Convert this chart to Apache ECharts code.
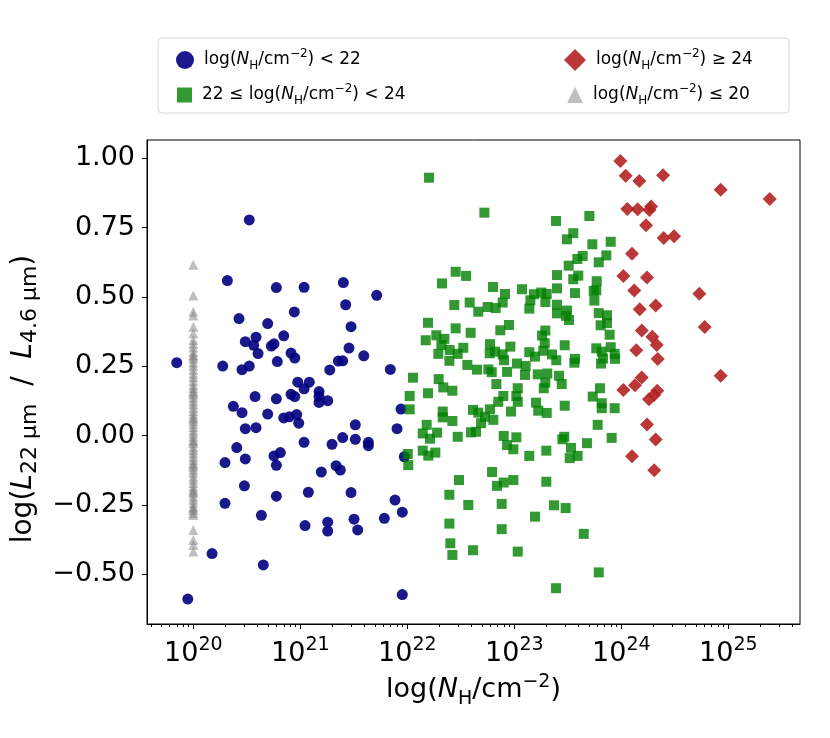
<!DOCTYPE html>
<html>
<head>
<meta charset="utf-8">
<script src="https://cdn.jsdelivr.net/npm/echarts@6/dist/echarts.min.js"></script>
<style>
  html, body { margin: 0; padding: 0; background: #fff; }
  #main { width: 830px; height: 738px; }
</style>
</head>
<body>
<div id="main"></div>
<script>
// log(NH) < 22
var lowX = [20.523, 20.318, 20.776, 21.035, 21.402, 21.714, 21.424, 20.944, 20.427, 20.695,
  21.474, 20.845, 20.586, 20.486, 20.564, 20.754, 20.729, 21.455, 20.605, 20.913,
  20.948, 21.593, 20.785, 21.355, 21.396, 20.275, 20.523, 20.455, 21.275, 21.841,
  20.976, 21.084, 21.035, 21.175, 21.175, 21.175, 21.256, 20.577, 20.776, 20.913,
  20.948, 20.374, 21.941, 20.455, 20.695, 20.845, 20.897, 20.966, 20.985, 20.486,
  20.586, 21.514, 21.904, 20.406, 20.486, 20.296, 20.754, 20.813, 20.776, 21.035,
  21.296, 21.396, 21.514, 21.636, 21.636, 21.196, 21.334, 21.374, 21.972, 20.477,
  20.296, 20.776, 21.075, 21.474, 21.885, 21.953, 21.785, 20.636, 21.044, 21.256,
  21.256, 21.502, 21.536, 20.175, 20.654, 21.953, 19.845, 19.948];
var lowY = [0.778, 0.559, 0.534, 0.535, 0.552, 0.506, 0.472, 0.446, 0.422, 0.404,
  0.393, 0.360, 0.355, 0.339, 0.326, 0.331, 0.323, 0.316, 0.296, 0.298,
  0.280, 0.288, 0.267, 0.269, 0.270, 0.251, 0.251, 0.238, 0.237, 0.239,
  0.193, 0.193, 0.169, 0.159, 0.141, 0.120, 0.126, 0.141, 0.133, 0.149,
  0.141, 0.106, 0.096, 0.083, 0.078, 0.064, 0.068, 0.076, 0.045, 0.025,
  0.029, 0.039, 0.025, -0.043, -0.084, -0.097, -0.073, -0.061, -0.107, -0.024,
  -0.031, -0.007, -0.013, -0.024, -0.036, -0.131, -0.108, -0.124, -0.076, -0.181,
  -0.244, -0.218, -0.204, -0.205, -0.232, -0.276, -0.298, -0.287, -0.324, -0.312,
  -0.344, -0.301, -0.340, -0.425, -0.466, -0.573, 0.263, -0.589];

// 22 <= log(NH) < 24
var midX = [22.203, 22.720, 23.390, 23.701, 23.551, 23.492, 23.729, 23.901, 23.639, 23.589,
  23.860, 23.508, 23.789, 22.452, 22.549, 22.324, 23.399, 23.551, 23.598, 23.770,
  22.801, 23.072, 23.399, 22.913, 23.184, 23.252, 23.303, 23.766, 23.742, 23.567,
  22.439, 22.583, 22.663, 22.751, 22.826, 22.891, 23.150, 23.140, 23.290, 23.399,
  23.399, 23.492, 23.483, 23.511, 23.748, 23.789, 23.866, 23.807, 23.866, 23.891,
  22.193, 22.452, 22.592, 22.869, 22.950, 22.271, 22.172, 22.346, 22.318, 23.290,
  23.259, 23.284, 23.471, 22.773, 22.963, 22.290, 22.396, 22.471, 22.523, 22.770,
  22.820, 22.891, 22.904, 22.393, 22.561, 22.651, 22.757, 22.789, 22.932, 23.025,
  23.106, 23.140, 23.193, 23.271, 23.352, 23.392, 23.567, 23.561, 23.766, 23.817,
  23.901, 23.938, 23.829, 23.810, 23.941, 22.053, 22.293, 23.100, 23.219, 23.308,
  23.418,
  22.336, 22.421, 22.193, 22.022, 22.832, 23.032, 23.290, 23.443, 23.275, 23.801,
  23.733, 22.897, 23.019, 23.032, 22.850, 23.203, 23.471, 23.817, 23.817, 23.938,
  22.022, 22.331, 22.331, 22.421, 22.614, 22.663, 22.773, 22.726, 22.804, 22.689,
  22.969, 23.224, 23.303, 22.181, 22.144, 22.278, 22.212, 22.471, 22.595, 22.642,
  22.901, 23.019, 22.932, 22.991, 23.140, 23.299, 23.467, 23.449, 23.530, 23.592,
  23.518, 23.679, 23.779, 23.910, 22.144, 22.196, 22.262, 22.004, 22.009, 22.792,
  22.483, 22.838, 22.901, 22.991, 23.299, 22.393, 22.570, 22.882, 23.371, 23.480,
  23.193, 22.393, 22.882, 23.649, 22.402, 22.421, 22.614, 23.032, 23.789, 23.390];
var midY = [0.930, 0.804, 0.774, 0.792, 0.730, 0.708, 0.690, 0.699, 0.648, 0.637,
  0.650, 0.613, 0.625, 0.591, 0.576, 0.549, 0.579, 0.564, 0.577, 0.557,
  0.536, 0.528, 0.531, 0.511, 0.510, 0.516, 0.511, 0.524, 0.522, 0.514,
  0.471, 0.480, 0.447, 0.464, 0.460, 0.480, 0.488, 0.458, 0.482, 0.472,
  0.441, 0.451, 0.432, 0.417, 0.487, 0.442, 0.434, 0.398, 0.406, 0.364,
  0.407, 0.387, 0.371, 0.380, 0.399, 0.362, 0.344, 0.349, 0.327, 0.379,
  0.361, 0.333, 0.326, 0.330, 0.321, 0.295, 0.309, 0.295, 0.317, 0.297,
  0.303, 0.293, 0.272, 0.270, 0.255, 0.238, 0.239, 0.229, 0.230, 0.260,
  0.251, 0.301, 0.285, 0.306, 0.293, 0.272, 0.277, 0.263, 0.315, 0.303,
  0.319, 0.295, 0.278, 0.260, 0.277, 0.209, 0.204, 0.219, 0.221, 0.224,
  0.216,
  0.174, 0.162, 0.153, 0.143, 0.186, 0.171, 0.191, 0.186, 0.171, 0.171,
  0.141, 0.143, 0.143, 0.122, 0.122, 0.119, 0.108, 0.117, 0.099, 0.099,
  0.095, 0.087, 0.066, 0.053, 0.093, 0.083, 0.095, 0.068, 0.057, 0.045,
  0.087, 0.090, 0.082, 0.039, 0.008, 0.011, -0.011, -0.004, 0.012, 0.014,
  -0.001, -0.006, -0.034, -0.049, -0.073, -0.054, -0.004, -0.013, -0.044, -0.073,
  -0.081, -0.027, 0.039, -0.008, -0.054, -0.072, -0.061, -0.066, -0.106, -0.131,
  -0.160, -0.181, -0.169, -0.160, -0.166, -0.213, -0.250, -0.246, -0.251, -0.261,
  -0.292, -0.317, -0.337, -0.354, -0.388, -0.430, -0.413, -0.418, -0.493, -0.550];

// log(NH) >= 24
var highX = [23.991, 24.041, 24.168, 24.390, 24.929, 25.387, 24.056, 24.153, 24.278, 24.262,
  24.231, 24.396, 24.493, 24.100, 24.019, 24.240, 24.729, 24.121, 24.321, 24.172,
  24.779, 24.191, 24.290, 24.331, 24.140, 24.340, 24.929, 24.191, 24.128, 24.019,
  24.336, 24.306, 24.259, 24.240, 24.321, 24.100, 24.308];
var highY = [0.990, 0.937, 0.918, 0.939, 0.887, 0.853, 0.817, 0.816, 0.826, 0.814,
  0.759, 0.713, 0.719, 0.656, 0.576, 0.570, 0.512, 0.523, 0.469, 0.456,
  0.392, 0.379, 0.357, 0.327, 0.308, 0.276, 0.216, 0.210, 0.182, 0.165,
  0.162, 0.147, 0.131, 0.040, -0.014, -0.074, -0.125];

// log(NH) <= 20, all drawn at 20
var limX = 20;
var limY = [0.616, 0.505, 0.447, 0.433, 0.393, 0.369, 0.345, 0.331, 0.318, 0.302,
  0.291, 0.277, 0.264, 0.252, 0.238, 0.223, 0.211, 0.197, 0.183, 0.172,
  0.161, 0.148, 0.137, 0.124, 0.113, 0.101, 0.089, 0.077, 0.066, 0.054,
  0.043, 0.031, 0.019, 0.008, -0.004, -0.016, -0.027, -0.041, -0.052, -0.063,
  -0.076, -0.088, -0.099, -0.112, -0.123, -0.134, -0.147, -0.158, -0.171, -0.183,
  -0.194, -0.206, -0.219, -0.231, -0.244, -0.256, -0.268, -0.279, -0.286, -0.340,
  -0.376, -0.394, -0.418, 0.285, 0.155, 0.062, -0.021, -0.105, -0.201, -0.262];

var xMajor = [20, 21, 22, 23, 24, 25];
var yMajor = [-0.5, -0.25, 0, 0.25, 0.5, 0.75, 1.0];

var FONT = 'DejaVu Sans';

// minor ticks of the log axis, 2..9 x 10^n
var xMinor = [];
for (var n = 19; n <= 25; n++) {
    for (var k = 2; k <= 9; k++) {
        var v = n + Math.log10(k);
        if (v > 19.567 && v < 25.67) xMinor.push(v);
    }
}

function pairs(xs, ys) {
    return ys.map(function (y, i) { return [Array.isArray(xs) ? xs[i] : xs, y]; });
}

var legendText = {
    low: 'log({i|N}{s|H}/cm{p|−2}) < 22',
    mid: '22 ≤ log({i|N}{s|H}/cm{p|−2}) < 24',
    high: 'log({i|N}{s|H}/cm{p|−2}) ≥ 24',
    lim: 'log({i|N}{s|H}/cm{p|−2}) ≤ 20'
};
var legendRich = {
    i: { fontFamily: FONT, fontSize: 17, fontStyle: 'italic', lineHeight: 24, color: '#000' },
    s: { fontFamily: FONT, fontSize: 12, lineHeight: 10, verticalAlign: 'bottom', color: '#000' },
    p: { fontFamily: FONT, fontSize: 12, lineHeight: 10, verticalAlign: 'top', color: '#000' }
};
function legend(name, icon, size, left, top) {
    return {
        data: [{ name: name, icon: icon }],
        left: left,
        top: top,
        padding: 0,
        itemWidth: size,
        itemHeight: size,
        selectedMode: false,
        formatter: function (nm) { return legendText[nm]; },
        textStyle: {
            fontFamily: FONT, fontSize: 17, lineHeight: 24, color: '#000',
            padding: [0, 0, 0, 5], rich: legendRich
        }
    };
}

var myChart = echarts.init(document.getElementById('main'));

myChart.setOption({
    animation: false,
    backgroundColor: '#fff',
    graphic: [{
        type: 'rect',
        z: 0,
        shape: { x: 158, y: 38, width: 631, height: 75, r: 4 },
        style: { fill: '#fff', stroke: '#d6d6d6', lineWidth: 1 }
    }],
    legend: [
        legend('low', 'circle', 18, 176, 48),
        legend('mid', 'rect', 15, 177, 83),
        legend('high', 'diamond', 22, 564, 48),
        legend('lim', 'triangle', 16, 567, 83)
    ],
    grid: {
        left: 147, right: 30, top: 140, bottom: 114,
        show: true, borderColor: '#000', borderWidth: 1,
        outerBoundsMode: 'none'
    },
    xAxis: [{
        type: 'value',
        min: 19.567,
        max: 25.67,
        name: 'log({i|N}{s|H}/cm{p|−2})',
        nameLocation: 'middle',
        nameGap: 44,
        nameTextStyle: {
            fontFamily: FONT, fontSize: 27, lineHeight: 36, color: '#000',
            rich: {
                i: { fontFamily: FONT, fontSize: 27, fontStyle: 'italic', lineHeight: 36, color: '#000' },
                s: { fontFamily: FONT, fontSize: 19, lineHeight: 12, verticalAlign: 'bottom', color: '#000' },
                p: { fontFamily: FONT, fontSize: 19, lineHeight: 12, verticalAlign: 'top', color: '#000' }
            }
        },
        axisLine: { onZero: false, lineStyle: { color: '#000', width: 1 } },
        axisTick: { customValues: xMajor, length: 5, lineStyle: { color: '#000' } },
        axisLabel: {
            customValues: xMajor,
            margin: 12,
            formatter: function (v) { return '{b|10}{s|' + v + '}'; },
            rich: {
                b: { fontFamily: FONT, fontSize: 27, lineHeight: 36, color: '#000' },
                s: { fontFamily: FONT, fontSize: 19, lineHeight: 10, verticalAlign: 'top', color: '#000' }
            }
        },
        splitLine: { show: false }
    }, {
        type: 'value',
        min: 19.567,
        max: 25.67,
        position: 'bottom',
        axisLine: { show: false, onZero: false },
        axisTick: { customValues: xMinor, length: 3, lineStyle: { color: '#000' } },
        axisLabel: { show: false },
        splitLine: { show: false }
    }],
    yAxis: {
        type: 'value',
        min: -0.679,
        max: 1.066,
        name: 'log({i|L}{s|22 μm}  /  {i|L}{s|4.6 μm})',
        nameLocation: 'middle',
        nameRotate: 90,
        nameGap: 96,
        nameTextStyle: {
            fontFamily: FONT, fontSize: 28, lineHeight: 36, color: '#000',
            padding: [0, 34, 0, 0],
            rich: {
                i: { fontFamily: FONT, fontSize: 28, fontStyle: 'italic', lineHeight: 36, color: '#000' },
                s: { fontFamily: FONT, fontSize: 22, lineHeight: 12, verticalAlign: 'bottom', color: '#000' }
            }
        },
        axisLine: { show: true, onZero: false, lineStyle: { color: '#000', width: 1 } },
        axisTick: { show: true, customValues: yMajor, length: 5, lineStyle: { color: '#000' } },
        axisLabel: {
            customValues: yMajor,
            margin: 12,
            fontFamily: FONT,
            fontSize: 27,
            color: '#000',
            formatter: function (v) { return (v < 0 ? '−' : '') + Math.abs(v).toFixed(2); }
        },
        splitLine: { show: false }
    },
    series: [{
        name: 'low',
        type: 'scatter',
        symbol: 'circle',
        symbolSize: 11,
        itemStyle: { color: 'rgba(0,0,128,0.9)', opacity: 1 },
        data: pairs(lowX, lowY)
    }, {
        name: 'mid',
        type: 'scatter',
        symbol: 'rect',
        symbolSize: 10,
        itemStyle: { color: 'rgba(0,128,0,0.8)', opacity: 1 },
        data: pairs(midX, midY)
    }, {
        name: 'high',
        type: 'scatter',
        symbol: 'diamond',
        symbolSize: 14,
        itemStyle: { color: 'rgba(178,34,34,0.9)', opacity: 1 },
        data: pairs(highX, highY)
    }, {
        name: 'lim',
        type: 'scatter',
        symbol: 'triangle',
        symbolSize: 10,
        itemStyle: { color: 'rgba(128,128,128,0.5)', opacity: 1 },
        data: pairs(limX, limY)
    }]
});
</script>
</body>
</html>
